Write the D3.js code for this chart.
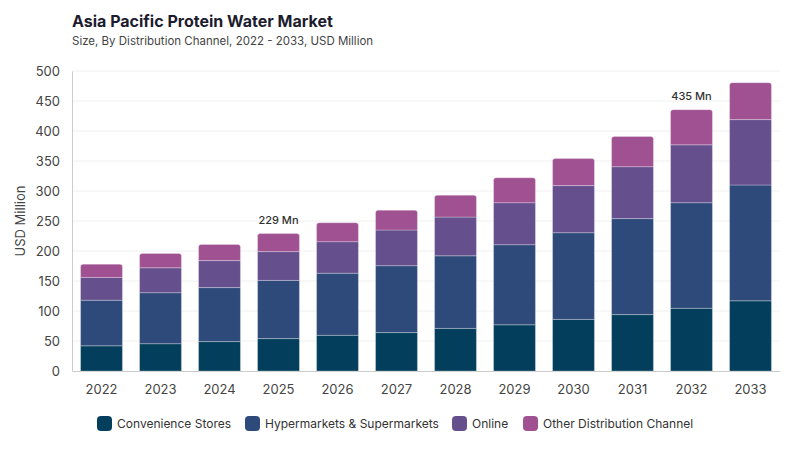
<!DOCTYPE html>
<html>
<head>
<meta charset="utf-8">
<script src="https://cdn.jsdelivr.net/npm/d3@7"></script>
<style>
  body { margin: 0; background: #fff; }
  svg { font-family: Inter, "Noto Sans", sans-serif; }
</style>
</head>
<body>
<div id="chart"></div>
<script>
// values (USD Million)
var years = ["2022", "2023", "2024", "2025", "2026", "2027", "2028", "2029", "2030", "2031", "2032", "2033"];
var convenience = [42, 45.5, 49, 54, 59.5, 64, 71, 77, 86, 94, 104.5, 117];
var hypermarkets = [76, 85, 90, 97, 103.5, 111.5, 121, 133.5, 144.5, 160, 176, 193];
var online = [38, 41.5, 45, 48, 52.5, 59.5, 64.5, 70, 78.5, 86.5, 96.5, 109];
var other = [22, 24, 27, 30, 31.5, 33, 36.5, 41.5, 45, 50.5, 58.5, 61.5];
var seriesNames = ["Convenience Stores", "Hypermarkets & Supermarkets", "Online", "Other Distribution Channel"];
var colors = ["#033f5c", "#2e4a7a", "#654f8d", "#a05192"];
var yTicks = [0, 50, 100, 150, 200, 250, 300, 350, 400, 450, 500];
var labelled = { "2025": "229 Mn", "2032": "435 Mn" };

var w = 800, h = 450;
var margin = { top: 71, right: 20, bottom: 79, left: 72 };

var svg = d3.select("#chart").append("svg")
  .attr("width", w)
  .attr("height", h);

// title
svg.append("text")
  .attr("x", 72).attr("y", 27)
  .style("font-size", "16px").style("font-weight", "700")
  .attr("fill", "#1c1c2e")
  .text("Asia Pacific Protein Water Market");

svg.append("text")
  .attr("x", 72).attr("y", 45)
  .style("font-size", "11.5px")
  .attr("fill", "#444")
  .text("Size, By Distribution Channel, 2022 - 2033, USD Million");

var table = years.map(function(y, i) {
  return { year: y, c: convenience[i], h: hypermarkets[i], o: online[i], x: other[i] };
});
var keys = ["c", "h", "o", "x"];
var stacked = d3.stack().keys(keys)(table);

var x = d3.scaleBand()
  .domain(years)
  .range([margin.left, w - margin.right])
  .paddingInner(0.29)
  .paddingOuter(0.145);

var y = d3.scaleLinear()
  .domain([0, 500])
  .range([h - margin.bottom, margin.top]);

// gridlines
svg.append("g")
  .selectAll("line")
  .data(yTicks.slice(1))
  .enter().append("line")
  .attr("x1", margin.left).attr("x2", w - margin.right)
  .attr("y1", function(d) { return y(d); })
  .attr("y2", function(d) { return y(d); })
  .attr("stroke", "#f0f0f0");

// y axis
var yAxis = svg.append("g")
  .attr("transform", "translate(" + margin.left + ",0)")
  .call(d3.axisLeft(y).tickValues(yTicks).tickSize(0).tickPadding(12));
yAxis.select(".domain").attr("stroke", "#ccc");
yAxis.selectAll("text").style("font-size", "13px").attr("fill", "#444").style("font-family", "Inter, sans-serif");

// x axis
var xAxis = svg.append("g")
  .attr("transform", "translate(0," + (h - margin.bottom) + ")")
  .call(d3.axisBottom(x).tickSize(0).tickPadding(14));
xAxis.select(".domain").attr("stroke", "#ccc");
xAxis.selectAll("text").style("font-size", "13px").attr("fill", "#444").style("font-family", "Inter, sans-serif");

svg.append("text")
  .attr("transform", "translate(25," + y(250) + ") rotate(-90)")
  .attr("text-anchor", "middle")
  .style("font-size", "13px")
  .attr("fill", "#444")
  .text("USD Million");

// rounded top for the last segment only
function segPath(d, r) {
  var x0 = x(d.data.year), bw = x.bandwidth();
  var y0 = y(d[0]), y1 = y(d[1]);
  if (!r) return "M" + x0 + "," + y0 + "V" + y1 + "H" + (x0 + bw) + "V" + y0 + "Z";
  return "M" + x0 + "," + y0 +
    "V" + (y1 + r) + "Q" + x0 + "," + y1 + " " + (x0 + r) + "," + y1 +
    "H" + (x0 + bw - r) + "Q" + (x0 + bw) + "," + y1 + " " + (x0 + bw) + "," + (y1 + r) +
    "V" + y0 + "Z";
}

svg.append("g")
  .selectAll("g")
  .data(stacked)
  .enter().append("g")
  .attr("fill", function(d, i) { return colors[i]; })
  .selectAll("path")
  .data(function(d) { return d.map(function(p) { p.top = d.index === keys.length - 1; return p; }); })
  .enter().append("path")
  .attr("d", function(d) { return segPath(d, d.top ? 2.5 : 0); })
  .attr("stroke", "#ffffff")
  .attr("stroke-opacity", 0.35)
  .attr("stroke-width", 0.8);

// value labels
svg.append("g")
  .selectAll("text")
  .data(table.filter(function(d) { return labelled[d.year]; }))
  .enter().append("text")
  .attr("x", function(d) { return x(d.year) + x.bandwidth() / 2; })
  .attr("y", function(d) { return y(d.c + d.h + d.o + d.x) - 10; })
  .attr("text-anchor", "middle")
  .style("font-size", "11px")
  .style("font-weight", "500")
  .attr("fill", "#333")
  .text(function(d) { return labelled[d.year]; });

// legend
var legendX = [97, 245, 452, 523];
var legend = svg.append("g").selectAll("g")
  .data(seriesNames)
  .enter().append("g")
  .attr("transform", function(d, i) { return "translate(" + legendX[i] + ",416)"; });

legend.append("rect")
  .attr("width", 15).attr("height", 15)
  .attr("rx", 4)
  .attr("fill", function(d, i) { return colors[i]; });

legend.append("text")
  .attr("x", 20).attr("y", 11.5)
  .style("font-size", "12px")
  .attr("fill", "#333")
  .text(function(d) { return d; });
</script>
</body>
</html>
